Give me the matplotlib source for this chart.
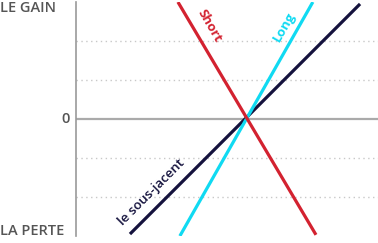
import matplotlib
matplotlib.use("Agg")
import matplotlib.pyplot as plt

# Data
under_x = [-2.95, 2.95]
under_y = [-2.95, 2.95]
long_x = [-1.67, 1.74]
long_y = [-3.0, 3.0]
short_x = [-1.72, 1.82]
short_y = [3.0, -2.97]
grid_levels = [-2, -1, 1, 2]
ylabels = ["LA PERTE", "0", "LE GAIN"]

C_UNDER = "#14123d"
C_LONG = "#10daf2"
C_SHORT = "#d32230"
C_TEXT = "#555555"

fig = plt.figure(figsize=(3.78, 2.43), dpi=100)
# axes: x from 76px to 378px, y from 2px to 236px
ax = fig.add_axes([76/378, (243-236)/243, (378-76)/378, (236-2)/243])
ax.set_xlim((76-245)/39, (378-245)/39)
ax.set_ylim(-3.0, 3.0)

for g in grid_levels:
    ax.axhline(g, color="#c8c8c8", lw=1.0, ls=(0, (1, 2.5)), zorder=1)
ax.axhline(0, color="#aaaaaa", lw=1.6, zorder=2)

ax.plot(under_x, under_y, color=C_UNDER, lw=2.3, solid_capstyle="butt", zorder=3)
ax.plot(long_x, long_y, color=C_LONG, lw=2.3, solid_capstyle="butt", zorder=4)
ax.plot(short_x, short_y, color=C_SHORT, lw=2.3, solid_capstyle="butt", zorder=5)

for s in ["top", "right", "bottom"]:
    ax.spines[s].set_visible(False)
ax.spines["left"].set_color("#999999")
ax.spines["left"].set_linewidth(1.2)
ax.set_xticks([])
ax.set_yticks([])

fam = ["Open Sans", "DejaVu Sans"]
fig.text(0.0, 1 - 8/243, ylabels[2], ha="left", va="center", fontsize=10.5,
         color=C_TEXT, family=fam, fontweight="semibold")
fig.text(70/378, 1 - 119/243, ylabels[1], ha="right", va="center", fontsize=10.5,
         color=C_TEXT, family=fam, fontweight="semibold")
fig.text(0.0, 1 - 231/243, ylabels[0], ha="left", va="center", fontsize=10.5,
         color=C_TEXT, family=fam, fontweight="semibold")

ax.text(-0.92, 2.38, "Short", rotation=-60, ha="center", va="center", fontsize=9.5,
        color=C_SHORT, family=fam, fontweight="bold", rotation_mode="anchor")
ax.text(1.0, 2.36, "Long", rotation=60, ha="center", va="center", fontsize=9.5,
        color=C_LONG, family=fam, fontweight="bold", rotation_mode="anchor")
ax.text(-2.4, -1.87, "le sous-jacent", rotation=45, ha="center", va="center", fontsize=9.5,
        color=C_UNDER, family=fam, fontweight="semibold", rotation_mode="anchor")

fig.savefig("out.png", dpi=100)
